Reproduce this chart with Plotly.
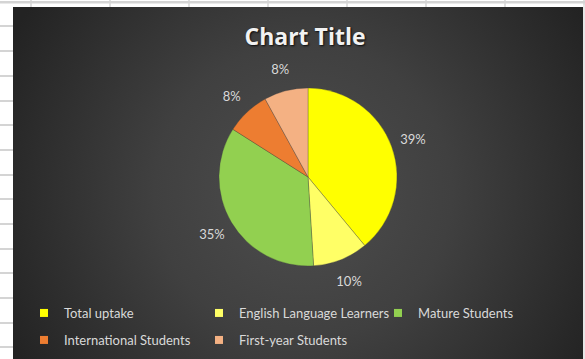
import base64
import plotly.graph_objects as go

# Uptake shares by student group
categories = ["Total uptake", "English Language Learners", "Mature Students",
              "International Students", "First-year Students"]
shares = [39, 10, 35, 8, 8]
slice_colors = ["#FFFF00", "#FFFF66", "#92D050", "#ED7D31", "#F4B183"]
legend_rows = [categories[:3], categories[3:]]

W, H = 585, 359


def fx(x):
    return x / W


def fy(y):
    return 1 - y / H


# Chart-area background: soft radial grey gradient
svg = (
    "<svg xmlns='http://www.w3.org/2000/svg' width='570' height='352' "
    "viewBox='0 0 570 352' preserveAspectRatio='none'>"
    "<defs><radialGradient id='g' gradientUnits='userSpaceOnUse' cx='290' cy='185' r='330'>"
    "<stop offset='0' stop-color='#4e4e4e'/>"
    "<stop offset='0.45' stop-color='#404040'/>"
    "<stop offset='1' stop-color='#232323'/>"
    "</radialGradient></defs>"
    "<rect width='570' height='352' fill='url(#g)'/></svg>"
)
bg_uri = "data:image/svg+xml;base64," + base64.b64encode(svg.encode()).decode()

fig = go.Figure()

cx, cy, r = 308, 177, 89
pie_common = dict(labels=categories, values=shares, sort=False,
                  direction="clockwise", rotation=0)

# The pie itself
fig.add_trace(go.Pie(
    **pie_common,
    marker=dict(colors=slice_colors, line=dict(color="rgba(60,60,60,0.6)", width=0.5)),
    textinfo="none",
    domain=dict(x=[fx(cx - r), fx(cx + r)], y=[fy(cy + r), fy(cy - r)]),
    showlegend=False,
    hoverinfo="label+percent",
))

# Percentage labels, set in a transparent ring just outside the pie
ring_r = 134
fig.add_trace(go.Pie(
    **pie_common,
    hole=r / ring_r,
    marker=dict(colors=["rgba(0,0,0,0)"] * len(categories), line=dict(width=0)),
    texttemplate="%{percent:.0%}",
    textposition="inside",
    insidetextorientation="horizontal",
    insidetextfont=dict(family="Lato", size=13, color="#D9D9D9"),
    domain=dict(x=[fx(cx - ring_r), fx(cx + ring_r)], y=[fy(cy + ring_r), fy(cy - ring_r)]),
    showlegend=False,
    hoverinfo="skip",
))

# Legend entries, split over two rows
color_of = dict(zip(categories, slice_colors))
entry_w = {"English Language Learners": 134}
for row_idx, row in enumerate(legend_rows):
    for name in row:
        fig.add_trace(go.Scatter(
            x=[None], y=[None], mode="markers", name=name,
            marker=dict(symbol="square", size=8, color=color_of[name], line=dict(width=0)),
            legend="legend" if row_idx == 0 else "legend2",
            legendwidth=entry_w.get(name, 130),
            showlegend=True,
        ))

# Spreadsheet grid around the chart object
grid = "#D4D4D4"
shapes = [dict(type="rect", xref="paper", yref="paper", x0=0, x1=1, y0=fy(1), y1=fy(3.5),
               fillcolor=grid, line=dict(width=0), layer="below")]
for gx in [31, 110, 189, 268, 347, 426, 505, 584]:
    shapes.append(dict(type="line", xref="paper", yref="paper", x0=fx(gx), x1=fx(gx),
                       y0=fy(0), y1=fy(7), line=dict(color=grid, width=1.5), layer="below"))
for gy in [26, 51, 76, 101, 125, 150, 175, 199, 224, 249, 273, 298, 323, 347]:
    shapes.append(dict(type="line", xref="paper", yref="paper", x0=0, x1=fx(13),
                       y0=fy(gy), y1=fy(gy), line=dict(color=grid, width=2), layer="below"))
shapes.append(dict(type="rect", xref="paper", yref="paper", x0=fx(583), x1=1, y0=0, y1=fy(5),
                   fillcolor="#E6E6E6", line=dict(width=0), layer="below"))

legend_common = dict(
    orientation="h", xanchor="left", yanchor="top",
    font=dict(family="Lato", size=13, color="#D9D9D9"),
    bgcolor="rgba(0,0,0,0)", borderwidth=0,
    entrywidthmode="pixels",
    itemclick=False, itemdoubleclick=False,
)

fig.update_layout(
    width=W, height=H,
    margin=dict(l=0, r=0, t=0, b=0),
    paper_bgcolor="white",
    plot_bgcolor="rgba(0,0,0,0)",
    xaxis=dict(visible=False),
    yaxis=dict(visible=False),
    title=dict(
        text="<b>Chart Title</b>",
        x=fx(305), xanchor="center", xref="paper",
        y=fy(37), yanchor="middle", yref="paper",
        font=dict(family="Open Sans", size=23, color="#F2F2F2",
                  shadow="1px 1px 2px rgba(0,0,0,0.85)"),
    ),
    legend=dict(x=fx(24), y=fy(298), **legend_common),
    legend2=dict(x=fx(24), y=fy(325), **legend_common),
    images=[dict(source=bg_uri, xref="paper", yref="paper", x=fx(13), y=fy(7),
                 sizex=570 / W, sizey=352 / H, sizing="stretch",
                 xanchor="left", yanchor="top", layer="below")],
    shapes=shapes,
    showlegend=True,
)

fig.write_html("out.html")
